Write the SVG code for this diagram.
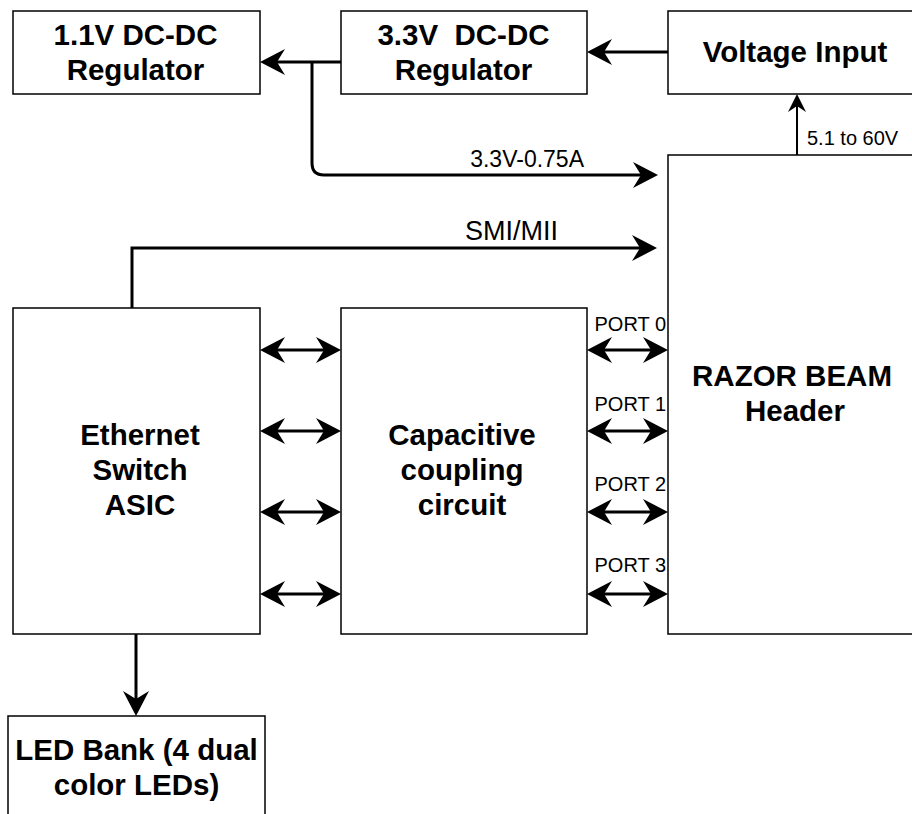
<svg xmlns="http://www.w3.org/2000/svg" width="912" height="814" viewBox="0 0 912 814">
<style>
.box{fill:#fff;stroke:#000;stroke-width:1.5}
.t{font-family:"Liberation Sans",Arial,sans-serif;font-weight:bold;font-size:29.5px;text-anchor:middle;fill:#000}
.l{font-family:"Liberation Sans",Arial,sans-serif;font-size:20px;fill:#000}
.c{fill:none;stroke:#000;stroke-width:3}
.cs{fill:none;stroke:#000;stroke-width:2}
</style>
<defs>
<marker id="ah" markerUnits="userSpaceOnUse" markerWidth="28" markerHeight="30" viewBox="-26 -15 28 30" refX="-10" refY="0" orient="auto-start-reverse">
<path d="M0,0 L-25,-13 L-17,0 L-25,13 Z" fill="#000"/>
</marker>
<marker id="ahs" markerUnits="userSpaceOnUse" markerWidth="22" markerHeight="22" viewBox="-20 -11 22 22" refX="-8" refY="0" orient="auto">
<path d="M0,0 L-18,-9 L-12,0 L-18,9 Z" fill="#000"/>
</marker>
</defs>
<rect width="912" height="814" fill="#fff"/>
<g id="reg11">
<rect class="box" x="13" y="11" width="247" height="83"/>
<text class="t" x="135.5" y="45">1.1V DC-DC</text>
<text class="t" x="135.5" y="80">Regulator</text>
</g>
<g id="reg33">
<rect class="box" x="341" y="11" width="246" height="83"/>
<text class="t" x="463.5" y="45" xml:space="preserve">3.3V  DC-DC</text>
<text class="t" x="463.5" y="80">Regulator</text>
</g>
<g id="vin">
<rect class="box" x="668" y="11" width="254" height="83"/>
<text class="t" x="795" y="62">Voltage Input</text>
</g>
<g id="header">
<rect class="box" x="668" y="155" width="254" height="479"/>
<text class="t" x="792" y="386">RAZOR BEAM</text>
<text class="t" x="795" y="421">Header</text>
</g>
<g id="eth">
<rect class="box" x="13" y="308" width="247" height="326"/>
<text class="t" x="140" y="445">Ethernet</text>
<text class="t" x="140" y="480">Switch</text>
<text class="t" x="140" y="515">ASIC</text>
</g>
<g id="cap">
<rect class="box" x="341" y="308" width="246" height="326"/>
<text class="t" x="462" y="445">Capacitive</text>
<text class="t" x="462" y="480">coupling</text>
<text class="t" x="462" y="515">circuit</text>
</g>
<g id="led">
<rect class="box" x="8" y="716" width="257" height="110"/>
<text class="t" x="136.5" y="760">LED Bank (4 dual</text>
<text class="t" x="136.5" y="795">color LEDs)</text>
</g>
<g id="connectors">
<path class="c" d="M668,52 L597,52" marker-end="url(#ah)"/>
<path class="c" d="M341,62 L270,62" marker-end="url(#ah)"/>
<path class="c" d="M312,62 L312,163 Q312,175 324,175 L648,175" marker-end="url(#ah)"/>
<path class="c" d="M132,308 L132,248 L647,248" marker-end="url(#ah)"/>
<path class="c" d="M136,634 L136,706" marker-end="url(#ah)"/>
<path class="cs" d="M797,155 L797,102" marker-end="url(#ahs)"/>
<path class="c" d="M270,350 L331,350" marker-start="url(#ah)" marker-end="url(#ah)"/>
<path class="c" d="M270,431 L331,431" marker-start="url(#ah)" marker-end="url(#ah)"/>
<path class="c" d="M270,512 L331,512" marker-start="url(#ah)" marker-end="url(#ah)"/>
<path class="c" d="M270,594 L331,594" marker-start="url(#ah)" marker-end="url(#ah)"/>
<path class="c" d="M597,350 L658,350" marker-start="url(#ah)" marker-end="url(#ah)"/>
<path class="c" d="M597,431 L658,431" marker-start="url(#ah)" marker-end="url(#ah)"/>
<path class="c" d="M597,512 L658,512" marker-start="url(#ah)" marker-end="url(#ah)"/>
<path class="c" d="M597,594 L658,594" marker-start="url(#ah)" marker-end="url(#ah)"/>
<text class="l" x="584" y="167" text-anchor="end" style="font-size:23px">3.3V-0.75A</text>
<text class="l" x="558" y="240" text-anchor="end" style="font-size:27px">SMI/MII</text>
<text class="l" x="807" y="145">5.1 to 60V</text>
<text class="l" x="666" y="331" text-anchor="end">PORT 0</text>
<text class="l" x="666" y="411" text-anchor="end">PORT 1</text>
<text class="l" x="666" y="491" text-anchor="end">PORT 2</text>
<text class="l" x="666" y="572" text-anchor="end">PORT 3</text>
</g>
</svg>
